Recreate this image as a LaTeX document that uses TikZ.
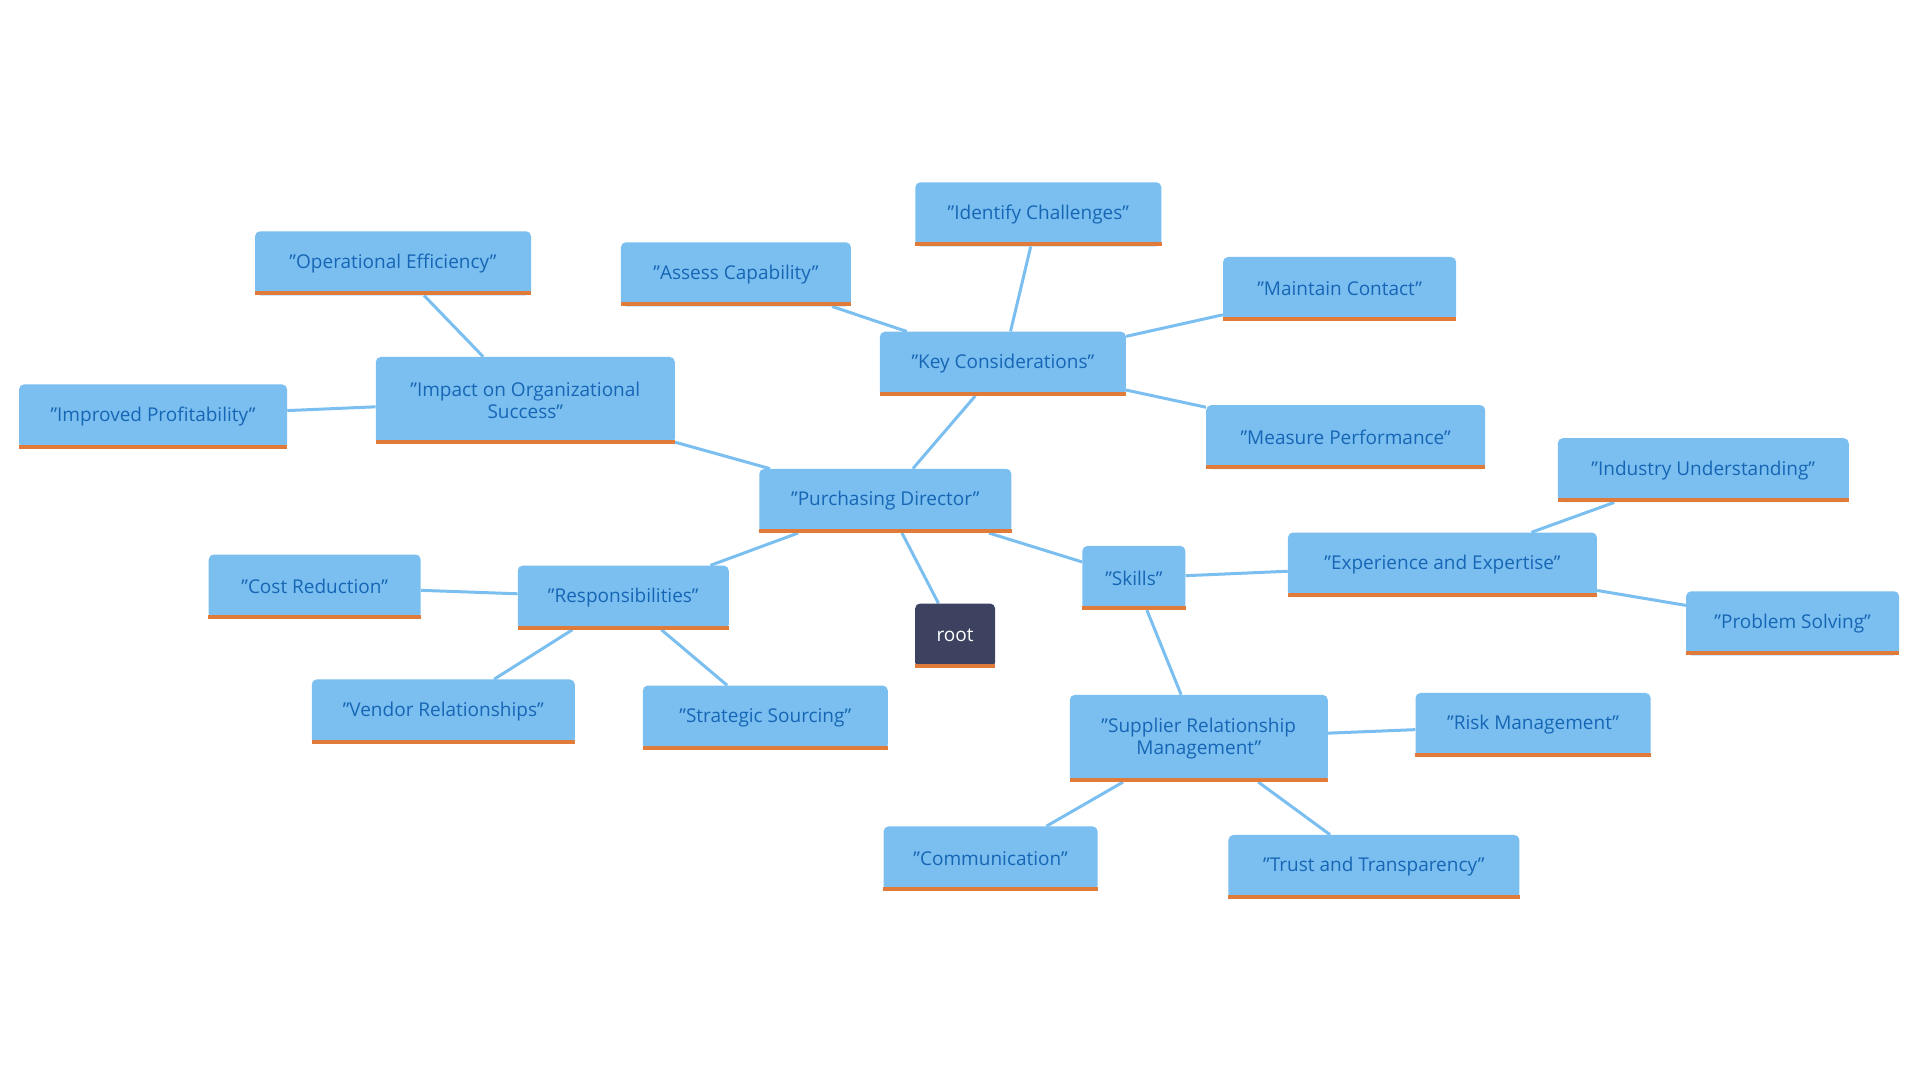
\documentclass[tikz,border=0pt]{standalone}
\usepackage{fontspec}
\setmainfont{Open Sans}
\usetikzlibrary{backgrounds}
\definecolor{boxblue}{HTML}{7ABFF0}
\definecolor{textblue}{HTML}{1766B5}
\definecolor{barorange}{HTML}{E07B39}
\definecolor{rootdark}{HTML}{3C4260}
\begin{document}
\begin{tikzpicture}[x=1.2245pt, y=-1.2245pt,
mapnode/.style={rounded corners=5pt, fill=boxblue, text=textblue, minimum height=64pt, inner sep=4pt, align=center, font=\fontsize{19}{22}\selectfont},
tallnode/.style={mapnode, minimum height=87pt},
rootnode/.style={mapnode, fill=rootdark, text=white},
link/.style={draw=boxblue, line width=3pt},
bar/.style={draw=barorange, line width=4pt},
]
\useasboundingbox (0,0) rectangle (1568,882);
%Nodes
\node[mapnode, minimum width=252pt] (pd)   at (723,409) {"Purchasing Director"};
\node[mapnode, minimum width=246pt] (kc)   at (819,297) {"Key Considerations"};
\node[mapnode, minimum width=246pt] (ic)   at (848,175) {"Identify Challenges"};
\node[mapnode, minimum width=230pt] (ac)   at (601,224) {"Assess Capability"};
\node[mapnode, minimum width=233pt] (mc)   at (1094,236) {"Maintain Contact"};
\node[mapnode, minimum width=279pt] (mp)   at (1099,357) {"Measure Performance"};
\node[tallnode, minimum width=299pt] (ios) at (429,327) {"Impact on Organizational\\Success"};
\node[mapnode, minimum width=276pt] (oe)   at (321,215) {"Operational Efficiency"};
\node[mapnode, minimum width=268pt] (ip)   at (125,340) {"Improved Profitability"};
\node[mapnode, minimum width=211pt] (resp) at (509,488) {"Responsibilities"};
\node[mapnode, minimum width=212pt] (cr)   at (257,479) {"Cost Reduction"};
\node[mapnode, minimum width=263pt] (vr)   at (362,581) {"Vendor Relationships"};
\node[mapnode, minimum width=245pt] (ss)   at (625,586) {"Strategic Sourcing"};
\node[rootnode, minimum width=80pt] (root) at (780,519) {root};
\node[mapnode, minimum width=103pt] (sk)   at (926,472) {"Skills"};
\node[mapnode, minimum width=309pt] (ee)   at (1178,461) {"Experience and Expertise"};
\node[mapnode, minimum width=291pt] (iu)   at (1391,384) {"Industry Understanding"};
\node[mapnode, minimum width=213pt] (ps)   at (1464,509) {"Problem Solving"};
\node[tallnode, minimum width=258pt] (srm) at (979,603) {"Supplier Relationship\\Management"};
\node[mapnode, minimum width=235pt] (rm)   at (1252,592) {"Risk Management"};
\node[mapnode, minimum width=214pt] (com)  at (809,701) {"Communication"};
\node[mapnode, minimum width=291pt] (tt)   at (1122,708) {"Trust and Transparency"};

%Bars
\foreach \n in {pd,kc,ic,ac,mc,mp,ios,oe,ip,resp,cr,vr,ss,root,sk,ee,iu,ps,srm,rm,com,tt}
  \draw[bar] ([yshift=2pt]\n.south west) -- ([yshift=2pt]\n.south east);

%Lines
\begin{scope}[on background layer]
\draw[link] (pd) -- (kc);
\draw[link] (kc) -- (ic);
\draw[link] (kc) -- (ac);
\draw[link] (kc) -- (mc);
\draw[link] (kc) -- (mp);
\draw[link] (pd) -- (ios);
\draw[link] (ios) -- (oe);
\draw[link] (ios) -- (ip);
\draw[link] (pd) -- (resp);
\draw[link] (resp) -- (cr);
\draw[link] (resp) -- (vr);
\draw[link] (resp) -- (ss);
\draw[link] (pd) -- (root);
\draw[link] (pd) -- (sk);
\draw[link] (sk) -- (ee);
\draw[link] (ee) -- (iu);
\draw[link] (ee) -- (ps);
\draw[link] (sk) -- (srm);
\draw[link] (srm) -- (rm);
\draw[link] (srm) -- (com);
\draw[link] (srm) -- (tt);
\end{scope}
\end{tikzpicture}
\end{document}
